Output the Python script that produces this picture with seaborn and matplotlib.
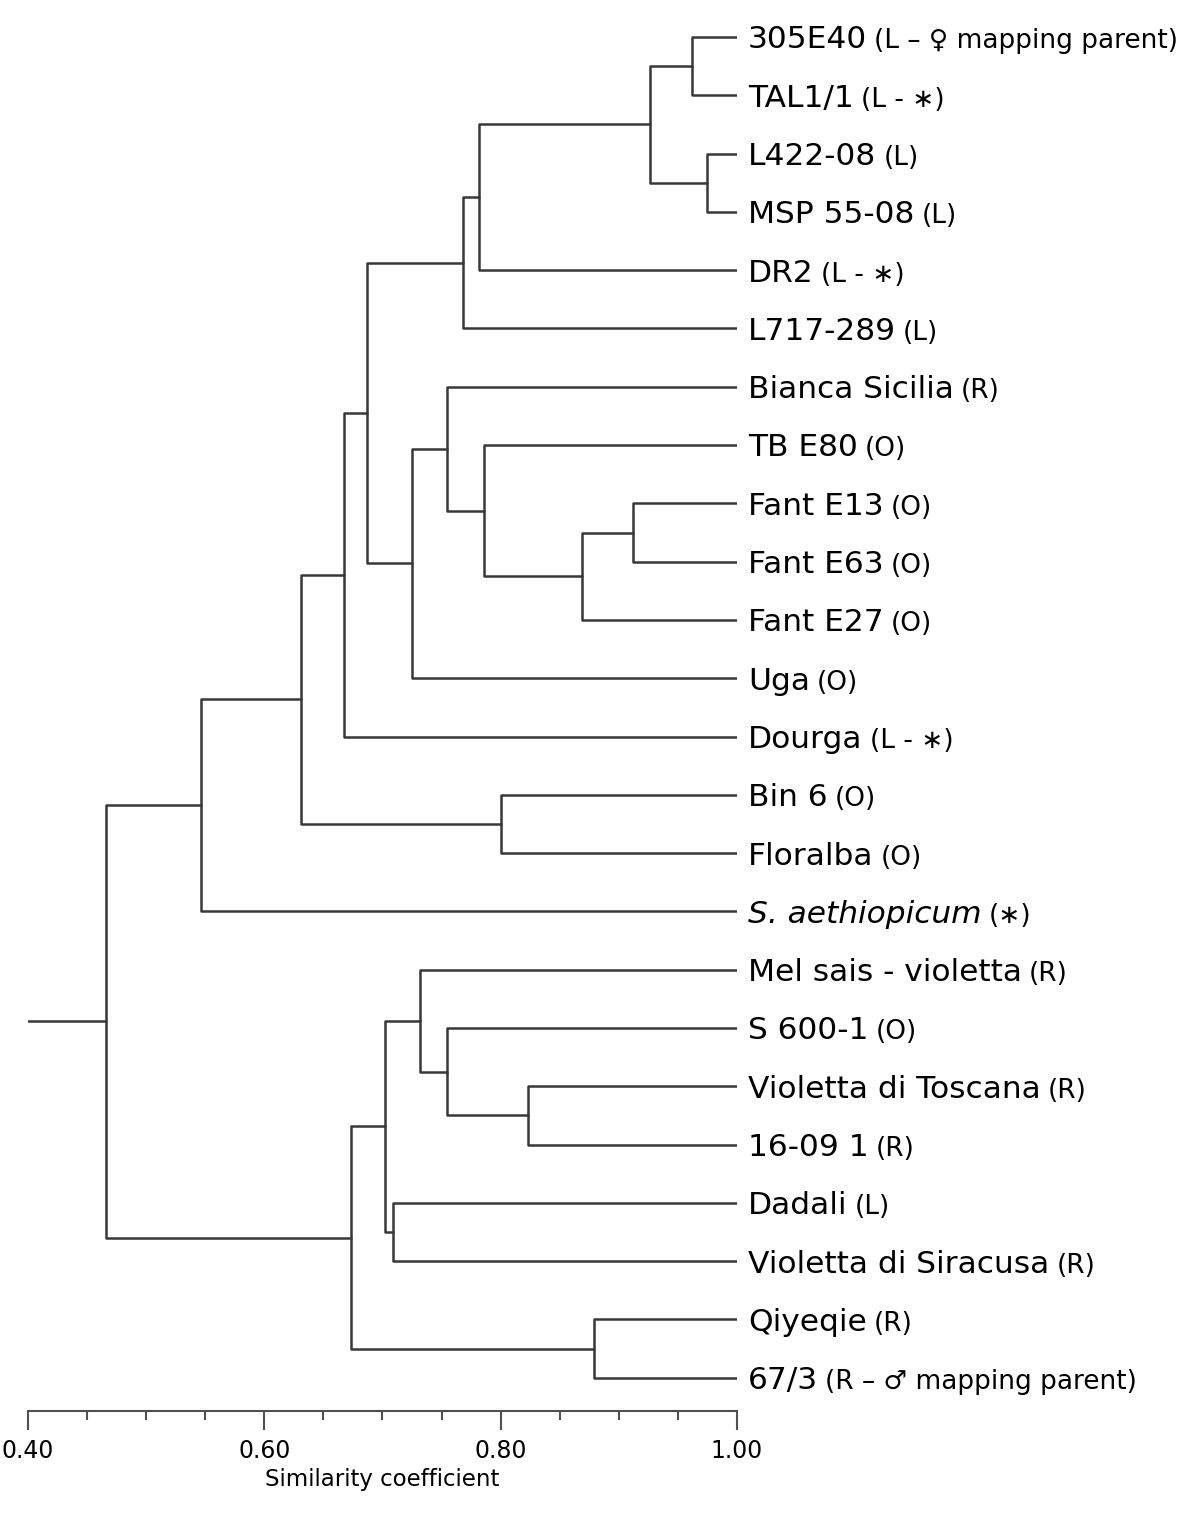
import numpy as np
import pandas as pd
import matplotlib
matplotlib.use('Agg')
import matplotlib.pyplot as plt
import seaborn as sns

# feuilles du dendrogramme, de haut en bas
leaf_names = ['305E40', 'TAL1/1', 'L422-08', 'MSP 55-08', 'DR2', 'L717-289',
              'Bianca Sicilia', 'TB E80', 'Fant E13', 'Fant E63', 'Fant E27',
              'Uga', 'Dourga', 'Bin 6', 'Floralba', 'S. aethiopicum',
              'Mel sais - violetta', 'S 600-1', 'Violetta di Toscana', '16-09 1',
              'Dadali', 'Violetta di Siracusa', 'Qiyeqie', '67/3']
leaf_groups = ['(L – ♀ mapping parent)', '(L - ∗)', '(L)', '(L)', '(L - ∗)', '(L)',
               '(R)', '(O)', '(O)', '(O)', '(O)',
               '(O)', '(L - ∗)', '(O)', '(O)', '(∗)',
               '(R)', '(O)', '(R)', '(R)',
               '(L)', '(R)', '(R)', '(R – ♂ mapping parent)']

# fusions (indices 0-23 = feuilles, 24+ = noeuds créés dans l'ordre)
merge_a = [0, 2, 24, 26, 27, 8, 29, 7, 6, 32, 28, 34, 13, 35, 37,
           18, 17, 16, 20, 41, 22, 43, 38]
merge_b = [1, 3, 25, 4, 5, 9, 10, 30, 31, 11, 33, 12, 14, 36, 15,
           19, 39, 40, 21, 42, 23, 44, 45]
merge_sim = [0.962, 0.975, 0.926, 0.782, 0.768, 0.912, 0.869, 0.786, 0.755, 0.725,
             0.687, 0.667, 0.800, 0.631, 0.546,
             0.823, 0.755, 0.732, 0.709, 0.702, 0.879, 0.673, 0.466]

sim_ticks = [0.40, 0.60, 0.80, 1.00]

sns.set_style('white')
plt.rcParams['font.family'] = ['DejaVu Sans']
plt.rcParams['text.color'] = 'black'
plt.rcParams['xtick.color'] = 'black'
plt.rcParams['axes.labelcolor'] = 'black'

# segments en U pour chaque fusion
node_x = [1.0] * len(leaf_names)
node_y = list(range(len(leaf_names)))
rows = []
for k, (a, b, h) in enumerate(zip(merge_a, merge_b, merge_sim)):
    rows += [(k, node_x[a], node_y[a]), (k, h, node_y[a]),
             (k, h, node_y[b]), (k, node_x[b], node_y[b])]
    node_x.append(h)
    node_y.append((node_y[a] + node_y[b]) / 2)
k = len(merge_a)
rows += [(k, sim_ticks[0], node_y[-1]), (k, node_x[-1], node_y[-1])]
segs = pd.DataFrame(rows, columns=['merge', 'x', 'y'])

fig = plt.figure(figsize=(12, 15.17), dpi=100)
ax = fig.add_axes([28 / 1200, 106 / 1517, 709 / 1200, 1411 / 1517])

sns.lineplot(data=segs, x='x', y='y', units='merge', estimator=None, sort=False,
             color='#383838', linewidth=1.8, ax=ax, legend=False)

ax.set_xlim(sim_ticks[0], sim_ticks[-1])
ax.set_ylim(23.57, -0.635)
for s in ['top', 'right', 'left']:
    ax.spines[s].set_visible(False)
ax.spines['bottom'].set_color('#505050')
ax.spines['bottom'].set_linewidth(1.5)

ax.set_xticks(sim_ticks)
ax.set_xticklabels(['%.2f' % t for t in sim_ticks], fontsize=17, color='black')
ax.set_xticks(np.arange(0.40, 1.001, 0.05), minor=True)
ax.tick_params(axis='x', which='major', direction='out', length=13.5, width=1.5,
               color='#505050', pad=7, bottom=True)
ax.tick_params(axis='x', which='minor', direction='out', length=6.5, width=1.5,
               color='#505050', bottom=True)
ax.set_yticks([])
ax.set_ylabel('')
ax.set_xlabel('Similarity coefficient', fontsize=16.5, labelpad=3, color='black')

# étiquettes des feuilles
for i, (name, grp) in enumerate(zip(leaf_names, leaf_groups)):
    style = 'italic' if name.startswith('S. ') else 'normal'
    t = ax.annotate(name, xy=(1.0, i), xycoords='data', xytext=(8, -8.2),
                    textcoords='offset points', va='baseline', ha='left',
                    fontsize=22.5, fontstyle=style, color='black',
                    annotation_clip=False)
    ax.annotate(grp, xy=(1.0, i), xycoords=(t, 'data'), xytext=(5, -8.2),
                textcoords='offset points', va='baseline', ha='left',
                fontsize=19, color='black', annotation_clip=False)

plt.savefig('out.png', dpi=100)
